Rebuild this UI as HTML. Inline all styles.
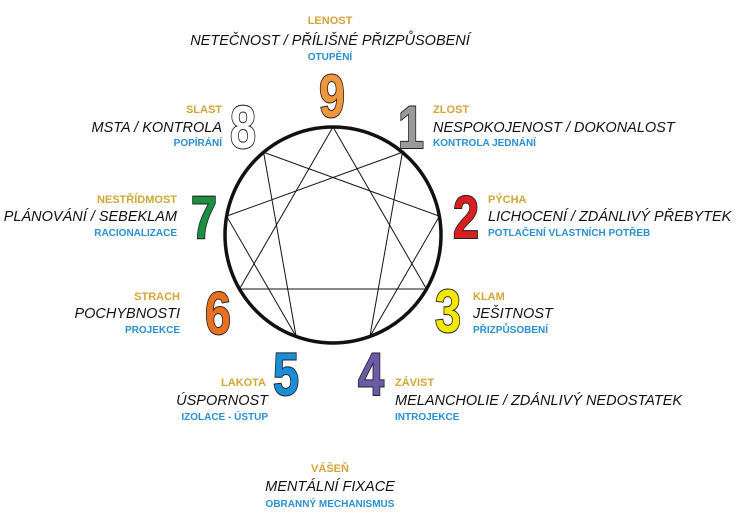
<!DOCTYPE html>
<html><head><meta charset="utf-8"><style>
html,body{margin:0;padding:0;background:#fff;width:740px;height:524px;overflow:hidden}
svg{display:block}
.g{font-family:"Liberation Sans",sans-serif;font-weight:bold;font-size:11px;fill:#d4a537}
.k{font-family:"Liberation Sans",sans-serif;font-style:italic;font-size:14.5px;fill:#111}
.b{font-family:"Liberation Sans",sans-serif;font-weight:bold;font-size:10px;fill:#2a8fd0}
.d{font-family:"Liberation Sans",sans-serif;font-weight:bold;font-size:60px;stroke:#222;stroke-width:2;paint-order:stroke}
</style></head><body>
<svg width="740" height="524" viewBox="0 0 740 524">
<g stroke="#111" stroke-width="1" fill="none">
<polygon points="333,127 426.5,289 239.5,289"/>
<polygon points="402.4,152.3 369.9,336.5 439.4,216.2 263.6,152.3 296.1,336.5 226.6,216.2"/>
</g>
<circle cx="333" cy="235" r="108" fill="none" stroke="#111" stroke-width="3.5"/>

<g transform="translate(332,0) scale(0.78,1)"><text class="d" x="0" y="117" text-anchor="middle" fill="#f0963c">9</text></g>
<g transform="translate(243,0) scale(0.78,1)"><text class="d" x="0" y="148" text-anchor="middle" fill="#fff">8</text></g>
<g transform="translate(411,0) scale(0.78,1)"><text class="d" x="0" y="148" text-anchor="middle" fill="#9a9a9a">1</text></g>
<g transform="translate(204,0) scale(0.78,1)"><text class="d" x="0" y="238" text-anchor="middle" fill="#1a9040">7</text></g>
<g transform="translate(466,0) scale(0.78,1)"><text class="d" x="0" y="238" text-anchor="middle" fill="#d92020">2</text></g>
<g transform="translate(218,0) scale(0.78,1)"><text class="d" x="0" y="334" text-anchor="middle" fill="#e87020">6</text></g>
<g transform="translate(448,0) scale(0.78,1)"><text class="d" x="0" y="332" text-anchor="middle" fill="#f5e800">3</text></g>
<g transform="translate(286,0) scale(0.78,1)"><text class="d" x="0" y="395" text-anchor="middle" fill="#1a8fd8">5</text></g>
<g transform="translate(371,0) scale(0.78,1)"><text class="d" x="0" y="395" text-anchor="middle" fill="#6a5aa8">4</text></g>

<g text-anchor="middle">
<text class="g" x="330" y="24">LENOST</text>
<text class="k" x="330" y="45">NETEČNOST / PŘÍLIŠNÉ PŘIZPŮSOBENÍ</text>
<text class="b" x="330" y="60">OTUPĚNÍ</text>
<text class="g" x="330" y="472">VÁŠEŇ</text>
<text class="k" x="330" y="491">MENTÁLNÍ FIXACE</text>
<text class="b" x="330" y="507">OBRANNÝ MECHANISMUS</text>
</g>
<g text-anchor="end">
<text class="g" x="222" y="113">SLAST</text>
<text class="k" x="222" y="132">MSTA / KONTROLA</text>
<text class="b" x="222" y="146">POPÍRÁNÍ</text>
<text class="g" x="177" y="203">NESTŘÍDMOST</text>
<text class="k" x="177" y="221">PLÁNOVÁNÍ / SEBEKLAM</text>
<text class="b" x="177" y="236">RACIONALIZACE</text>
<text class="g" x="180" y="300">STRACH</text>
<text class="k" x="180" y="318">POCHYBNOSTI</text>
<text class="b" x="180" y="333">PROJEKCE</text>
<text class="g" x="266" y="386">LAKOTA</text>
<text class="k" x="268" y="405">ÚSPORNOST</text>
<text class="b" x="268" y="420">IZOLACE - ÚSTUP</text>
</g>
<g>
<text class="g" x="433" y="113">ZLOST</text>
<text class="k" x="433" y="132">NESPOKOJENOST / DOKONALOST</text>
<text class="b" x="433" y="146">KONTROLA JEDNÁNÍ</text>
<text class="g" x="488" y="203">PÝCHA</text>
<text class="k" x="488" y="221">LICHOCENÍ / ZDÁNLIVÝ PŘEBYTEK</text>
<text class="b" x="488" y="236">POTLAČENÍ VLASTNÍCH POTŘEB</text>
<text class="g" x="473" y="300">KLAM</text>
<text class="k" x="473" y="318">JEŠITNOST</text>
<text class="b" x="473" y="333">PŘIZPŮSOBENÍ</text>
<text class="g" x="395" y="386">ZÁVIST</text>
<text class="k" x="395" y="405">MELANCHOLIE / ZDÁNLIVÝ NEDOSTATEK</text>
<text class="b" x="395" y="420">INTROJEKCE</text>
</g>
</svg>
</body></html>
